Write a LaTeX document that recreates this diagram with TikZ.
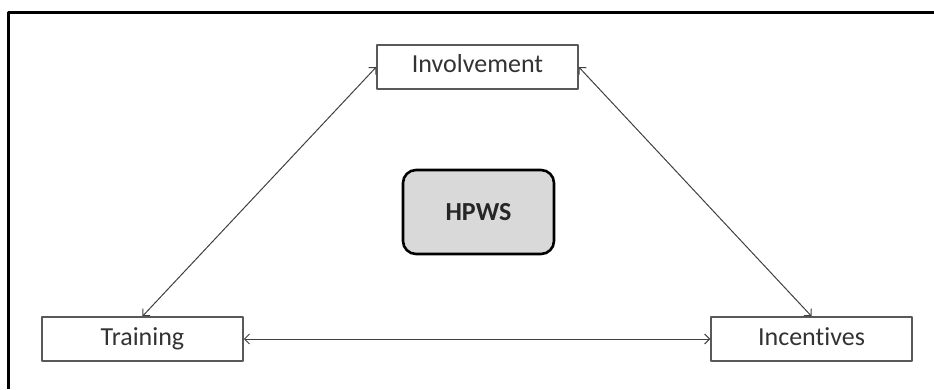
\documentclass[tikz,border=0pt]{standalone}
\usepackage{fontspec}
\setmainfont[Ligatures=NoCommon]{Carlito}
\usetikzlibrary{arrows.meta}
\begin{document}
\begin{tikzpicture}[x=1pt,y=1pt,line width=1pt,>={Straight Barb[length=5pt,width=10pt]},
 line join=round,font=\fontsize{26}{30}\selectfont,
 practice/.style={draw=black!65,line width=1.5pt,fill=white,text=black!80,
  minimum width=201pt,minimum height=44pt,inner sep=0pt,
  text height=17pt,text depth=5pt},
 core/.style={draw=black,line width=2.6pt,fill=black!15,rounded corners=13pt,
  text=black!85,font=\fontsize{26}{30}\selectfont\bfseries,
  minimum width=151pt,minimum height=84pt,inner sep=0pt},
 link/.style={<->,draw=black!75,line width=1pt}]
\useasboundingbox (0,0) rectangle (934,389);
% outer frame, cut at the right and bottom edges
\draw[line width=3pt] (8.5,0)--(8.5,376.5)--(934,376.5);
% HPWS bundle: three practices round the core
\node[practice] (inv) at (477.5,322) {Involvement};
\node[practice] (trn) at (142.5,50) {Training};
\node[practice] (inc) at (811.5,50) {Incentives};
\node[core] (hpws) at (478.5,177) {HPWS};
\draw[link] (trn.north)--(inv.west);
\draw[link] (inv.east)--(inc.north);
\draw[link] (trn.east)--(inc.west);
\end{tikzpicture}
\end{document}
